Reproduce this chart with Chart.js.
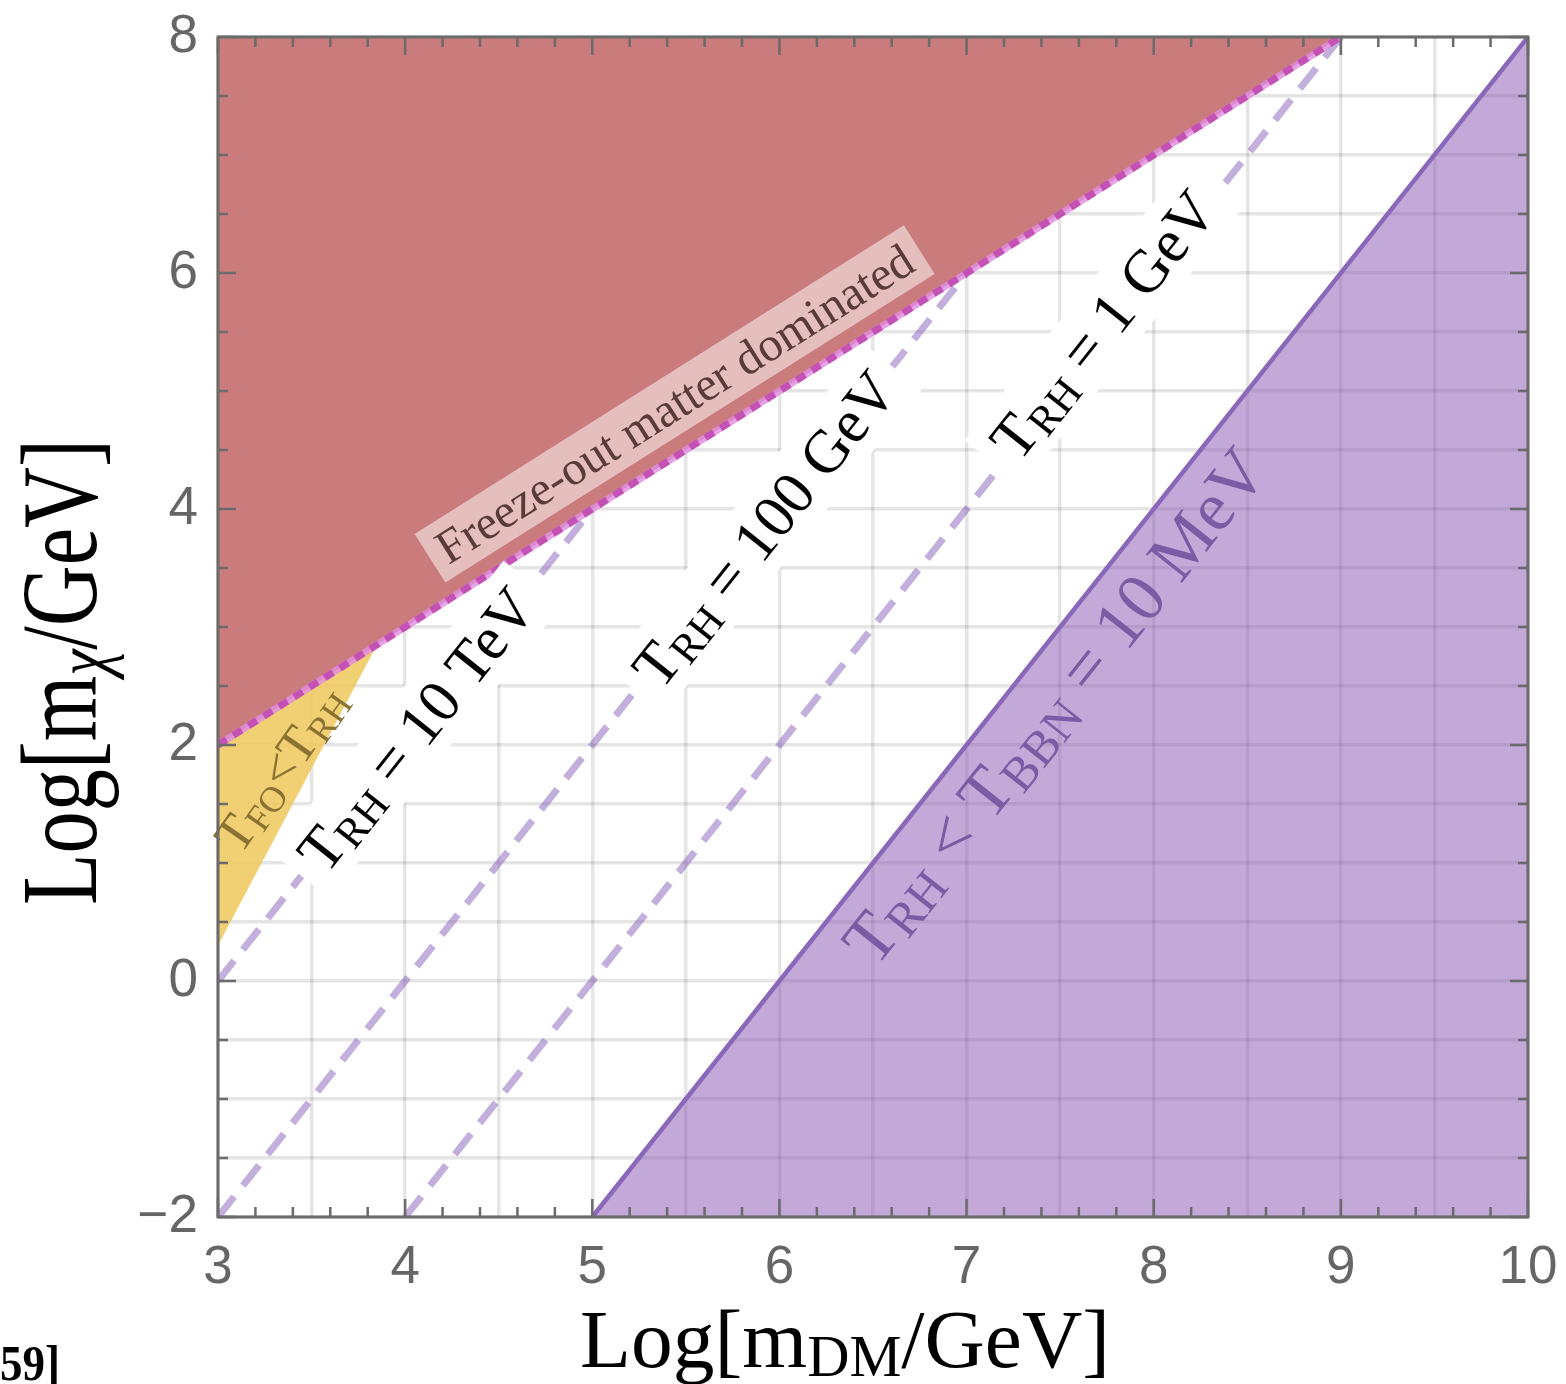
<!DOCTYPE html>
<html lang="en">
<head>
<meta charset="utf-8">
<title>Reheating temperature vs dark matter mass</title>
<script src="https://cdn.jsdelivr.net/npm/chart.js@4.4.1/dist/chart.umd.min.js"></script>
<style>
html, body { margin: 0; padding: 0; background: #fff; }
#wrap { position: relative; width: 1566px; height: 1384px; }
</style>
</head>
<body>
<div id="wrap"><canvas id="plot"></canvas></div>
<script>
// all values are Log10 of the masses in GeV
const freezeX = [3, 9];      // edge of the freeze-out matter dominated region
const freezeY = [2, 8];
const tfoX = [3, 3.85];      // T_FO < T_RH edge
const tfoY = [0.3, 2.85];
const bbnX = [5, 10];        // T_RH = T_BBN = 10 MeV
const bbnY = [-2, 8];
const tev10X = [3, 5];       // T_RH = 10 TeV
const tev10Y = [0, 4];
const gev100X = [3, 7];      // T_RH = 100 GeV
const gev100Y = [-2, 6];
const gev1X = [4, 9];        // T_RH = 1 GeV
const gev1Y = [-2, 8];

const xRange = [3, 10];
const yRange = [-2, 8];

const SERIF = '"Liberation Serif", "DejaVu Serif", serif';
const SANS = '"Liberation Sans", Arial, sans-serif';

function pts(xs, ys) {
    return xs.map((v, i) => ({x: v, y: ys[i]}));
}

// text like "T_{RH} = 1 GeV" -> runs with subscripts
function parseRuns(s) {
    const runs = [];
    const re = /_\{([^}]*)\}/g;
    let last = 0, m;
    while ((m = re.exec(s)) !== null) {
        if (m.index > last) runs.push({t: s.slice(last, m.index)});
        runs.push({t: m[1], sub: true, it: /[α-ω]/.test(m[1])});
        last = re.lastIndex;
    }
    if (last < s.length) runs.push({t: s.slice(last)});
    return runs;
}
function runFont(r, size, family, bold) {
    const s = r.sub ? size * 0.7 : size;
    return (r.it ? 'italic ' : '') + (bold ? 'bold ' : '') + s.toFixed(1) + 'px ' + family;
}
function runsWidth(ctx, runs, size, family, bold) {
    let w = 0;
    for (const r of runs) {
        ctx.font = runFont(r, size, family, bold);
        w += ctx.measureText(r.t).width;
    }
    return w;
}
function drawRuns(ctx, runs, x0, base, size, family, bold) {
    let x = x0;
    for (const r of runs) {
        ctx.font = runFont(r, size, family, bold);
        ctx.fillText(r.t, x, base + (r.sub ? size * 0.11 : 0));
        x += ctx.measureText(r.t).width;
    }
}

// labels sitting in the plot
const notes = [
    {text: 'Freeze-out matter dominated', at: [5.44, 4.89], along: [freezeX, freezeY], size: 48, color: '#5a3b3b', bg: 'rgba(255,255,255,0.5)'},
    {text: 'T_{RH} = 10 TeV', at: [4.06, 2.13], along: [tev10X, tev10Y], size: 61, color: '#000', bg: '#fff'},
    {text: 'T_{RH} = 100 GeV', at: [5.92, 3.83], along: [gev100X, gev100Y], size: 61, color: '#000', bg: '#fff'},
    {text: 'T_{RH} = 1 GeV', at: [7.73, 5.56], along: [gev1X, gev1Y], size: 61, color: '#000', bg: '#fff'},
    {text: 'T_{RH} < T_{BBN} = 10 MeV', at: [7.47, 2.33], along: [bbnX, bbnY], size: 70, color: '#7b5ba3'},
    {text: 'T_{FO}<T_{RH}', at: [3.335, 1.8], deg: -55, size: 52, color: '#8a7232'}
];

const notePlugin = {
    id: 'notes',
    afterDatasetsDraw(chart) {
        const {ctx, scales: {x, y}} = chart;
        for (const n of notes) {
            const px = x.getPixelForValue(n.at[0]);
            const py = y.getPixelForValue(n.at[1]);
            let ang;
            if (n.along) {
                const [lx, ly] = n.along;
                ang = Math.atan2(y.getPixelForValue(ly[1]) - y.getPixelForValue(ly[0]),
                                 x.getPixelForValue(lx[1]) - x.getPixelForValue(lx[0]));
            } else {
                ang = n.deg * Math.PI / 180;
            }
            const runs = parseRuns(n.text);
            const w = runsWidth(ctx, runs, n.size, SERIF);
            ctx.save();
            ctx.translate(px, py);
            ctx.rotate(ang);
            if (n.bg) {
                const h = n.size * 1.2, pad = n.size * 0.25;
                ctx.fillStyle = n.bg;
                ctx.fillRect(-w / 2 - pad, -h / 2, w + 2 * pad, h);
            }
            ctx.fillStyle = n.color;
            ctx.textAlign = 'left';
            ctx.textBaseline = 'alphabetic';
            drawRuns(ctx, runs, -w / 2, n.size * 0.33, n.size, SERIF);
            ctx.restore();
        }
    }
};

// Mathematica style frame with inward ticks, plus the axis titles
const framePlugin = {
    id: 'frame',
    afterDraw(chart) {
        const {ctx, chartArea: a, scales: {x, y}} = chart;
        ctx.save();
        ctx.strokeStyle = '#6b6b6b';
        ctx.lineWidth = 2.5;
        ctx.beginPath();
        for (let i = 0; i <= 35; i++) {
            const px = x.getPixelForValue(xRange[0] + i * 0.2);
            const len = i % 5 === 0 ? 18 : 10;
            ctx.moveTo(px, a.bottom); ctx.lineTo(px, a.bottom - len);
            ctx.moveTo(px, a.top); ctx.lineTo(px, a.top + len);
        }
        for (let i = 0; i <= 20; i++) {
            const py = y.getPixelForValue(yRange[0] + i * 0.5);
            const len = i % 4 === 0 ? 18 : 10;
            ctx.moveTo(a.left, py); ctx.lineTo(a.left + len, py);
            ctx.moveTo(a.right, py); ctx.lineTo(a.right - len, py);
        }
        ctx.stroke();
        ctx.lineWidth = 3;
        ctx.strokeRect(a.left, a.top, a.right - a.left, a.bottom - a.top);
        ctx.restore();

        ctx.save();
        ctx.fillStyle = '#000';
        ctx.textAlign = 'left';
        ctx.textBaseline = 'alphabetic';
        // x title
        let runs = parseRuns('Log[m_{DM}/GeV]');
        let w = runsWidth(ctx, runs, 83, SERIF);
        ctx.save();
        ctx.translate(845, 1367);
        ctx.scale(530 / w, 1);
        drawRuns(ctx, runs, -w / 2, 0, 83, SERIF);
        ctx.restore();
        // y title
        runs = parseRuns('Log[m_{χ}/GeV]');
        w = runsWidth(ctx, runs, 108, SERIF);
        ctx.save();
        ctx.translate(96, 672);
        ctx.rotate(-Math.PI / 2);
        ctx.scale(466 / w, 1);
        drawRuns(ctx, runs, -w / 2, 0, 108, SERIF);
        ctx.restore();
        // clipped reference number at the page corner
        runs = parseRuns('59]');
        w = runsWidth(ctx, runs, 50, SERIF, true);
        ctx.save();
        ctx.translate(0, 1380);
        ctx.scale(60 / w, 1);
        drawRuns(ctx, runs, 0, 0, 50, SERIF, true);
        ctx.restore();
        ctx.restore();
    }
};

const lineBase = {showLine: true, pointRadius: 0, pointHoverRadius: 0, tension: 0};
const dashStyle = {borderColor: 'rgba(135,95,185,0.5)', borderWidth: 7, borderDash: [26, 14], fill: false, order: 5};

new Chart(document.getElementById('plot'), {
    type: 'scatter',
    data: {
        datasets: [
            Object.assign({}, lineBase, {label: 'TFO<TRH', data: pts(tfoX, tfoY), borderWidth: 0,
                fill: 'end', backgroundColor: 'rgba(237,200,90,0.85)', order: 10}),
            Object.assign({}, lineBase, {label: 'Freeze-out matter dominated', data: pts(freezeX, freezeY), borderWidth: 0,
                fill: 'end', backgroundColor: '#ca7c7c', order: 9}),
            Object.assign({}, lineBase, {label: 'TRH<TBBN', data: pts(bbnX, bbnY), borderColor: '#8b67b9', borderWidth: 4.5,
                fill: 'start', backgroundColor: 'rgba(130,80,175,0.49)', order: 8}),
            Object.assign({}, lineBase, dashStyle, {label: 'TRH = 10 TeV', data: pts(tev10X, tev10Y)}),
            Object.assign({}, lineBase, dashStyle, {label: 'TRH = 100 GeV', data: pts(gev100X, gev100Y)}),
            Object.assign({}, lineBase, dashStyle, {label: 'TRH = 1 GeV', data: pts(gev1X, gev1Y)}),
            Object.assign({}, lineBase, {label: 'edge', data: pts(freezeX, freezeY), borderColor: 'rgba(225,140,225,0.8)',
                borderWidth: 7, fill: false, order: 3}),
            Object.assign({}, lineBase, {label: 'edge dashes', data: pts(freezeX, freezeY), borderColor: '#c452b5',
                borderWidth: 7, borderDash: [10, 8], fill: false, order: 2})
        ]
    },
    options: {
        responsive: true,
        maintainAspectRatio: false,
        animation: false,
        events: [],
        layout: {padding: {top: 37, right: 38, left: 0, bottom: 0}},
        plugins: {legend: {display: false}, tooltip: {enabled: false}},
        scales: {
            x: {
                type: 'linear', min: xRange[0], max: xRange[1],
                afterFit: s => { s.height = 167; s.paddingLeft = 0; s.paddingRight = 0; },
                border: {display: false},
                grid: {color: 'rgba(0,0,0,0.1)', lineWidth: 3.5, drawTicks: false},
                ticks: {
                    stepSize: 0.5, autoSkip: false, maxRotation: 0, padding: 20,
                    color: '#666', font: {family: SANS, size: 53},
                    callback: v => Number.isInteger(v) ? String(v) : ''
                }
            },
            y: {
                type: 'linear', min: yRange[0], max: yRange[1],
                afterFit: s => { s.width = 218; s.paddingTop = 0; s.paddingBottom = 0; },
                border: {display: false},
                grid: {color: 'rgba(0,0,0,0.1)', lineWidth: 3.5, drawTicks: false},
                ticks: {
                    stepSize: 0.5, autoSkip: false, padding: 20,
                    color: '#666', font: {family: SANS, size: 53},
                    callback: v => (Number.isInteger(v) && v % 2 === 0) ? (v < 0 ? '\u2212' + (-v) : String(v)) : ''
                }
            }
        }
    },
    plugins: [notePlugin, framePlugin]
});
</script>
</body>
</html>
